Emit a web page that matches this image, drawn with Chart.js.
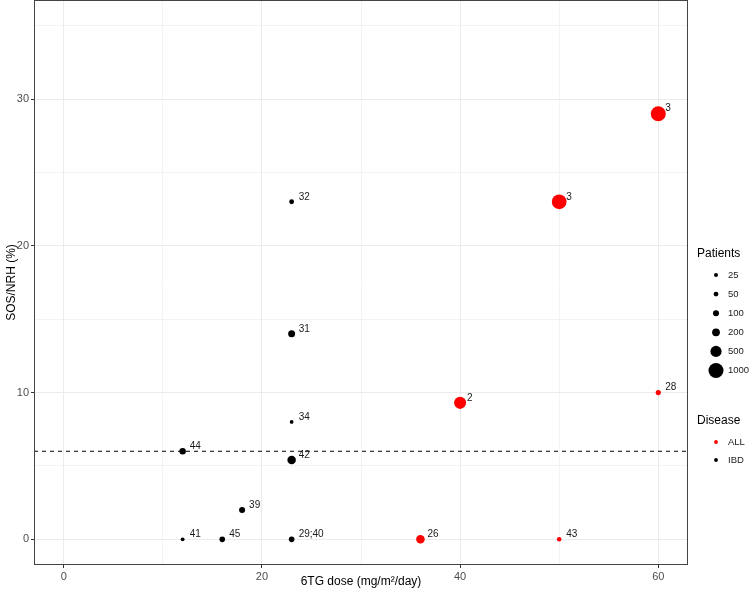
<!DOCTYPE html>
<html>
<head>
<meta charset="utf-8">
<script src="https://cdn.jsdelivr.net/npm/chart.js@4"></script>
<style>
  body { margin: 0; background: #fff; }
  #wrap { width: 750px; height: 600px; }
</style>
</head>
<body>
<div id="wrap"><canvas id="myChart" width="750" height="600"></canvas></div>
<script>
// datos
const ibdDose = [23, 23, 23, 12, 23, 18, 12, 16, 23];
const ibdRate = [23, 14, 8, 6, 5.4, 2, 0, 0, 0];
const ibdPatients = [50, 150, 20, 120, 250, 100, 20, 80, 80];
const ibdRefs = ['32', '31', '34', '44', '42', '39', '41', '45', '29;40'];

const allDose = [60, 50, 40, 60, 36, 50];
const allRate = [29, 23, 9.3, 10, 0, 0];
const allPatients = [1000, 950, 600, 60, 250, 40];
const allRefs = ['3', '3', '2', '28', '26', '43'];

const sizeBreaks = [25, 50, 100, 200, 500, 1000];
const xTicks = [0, 10, 20, 30, 40, 50, 60];
const yTicks = [0, 5, 10, 15, 20, 25, 30, 35];
const cutoff = 6;

const fontFam = '"Liberation Sans", Arial, sans-serif';

// radio del punto segun numero de pacientes
const radio = (n) => 0.97 + 0.207 * Math.sqrt(n);

const toPoints = (xs, ys) => xs.map((x, i) => ({ x: x, y: ys[i] }));

// etiquetas junto a cada punto
const etiquetas = {
    id: 'etiquetas',
    afterDatasetsDraw(chart) {
        const c = chart.ctx;
        c.save();
        c.font = '10px ' + fontFam;
        c.fillStyle = '#1a1a1a';
        c.textAlign = 'left';
        c.textBaseline = 'middle';
        chart.data.datasets.forEach((ds, k) => {
            if (!ds.refs) return;
            chart.getDatasetMeta(k).data.forEach((pt, i) => {
                c.fillText(ds.refs[i], pt.x + 7, pt.y - 5);
            });
        });
        c.restore();
    }
};

// borde del panel y leyenda a la derecha
const panel = {
    id: 'panel',
    beforeDraw(chart) {
        const c = chart.ctx;
        c.save();
        c.fillStyle = '#fff';
        c.fillRect(0, 0, chart.width, chart.height);
        c.restore();
    },
    afterDraw(chart) {
        const c = chart.ctx;
        const a = chart.chartArea;
        c.save();
        c.strokeStyle = '#444';
        c.lineWidth = 1;
        c.strokeRect(a.left + 0.5, a.top + 0.5, a.right - a.left - 1, a.bottom - a.top - 1);

        const lx = a.right + 9;
        c.fillStyle = '#000';
        c.textBaseline = 'middle';
        c.textAlign = 'left';
        c.font = '12px ' + fontFam;
        c.fillText('Patients', lx, 254);
        c.font = '9.5px ' + fontFam;
        sizeBreaks.forEach((b, i) => {
            const y = 275 + i * 19.1;
            c.fillStyle = '#000';
            c.beginPath();
            c.arc(lx + 19, y, radio(b), 0, Math.PI * 2);
            c.fill();
            c.fillStyle = '#1a1a1a';
            c.fillText(String(b), lx + 31, y);
        });

        c.fillStyle = '#000';
        c.font = '12px ' + fontFam;
        c.fillText('Disease', lx, 421);
        c.font = '9.5px ' + fontFam;
        [['ALL', '#ff0000', 442], ['IBD', '#000', 460]].forEach(([t, col, y]) => {
            c.fillStyle = col;
            c.beginPath();
            c.arc(lx + 19, y, 1.9, 0, Math.PI * 2);
            c.fill();
            c.fillStyle = '#1a1a1a';
            c.fillText(t, lx + 31, y);
        });
        c.restore();
    }
};

const esMayor = (v, paso) => v % paso === 0;

new Chart(document.getElementById('myChart'), {
    type: 'scatter',
    data: {
        datasets: [
            {
                type: 'line',
                label: 'corte',
                data: [{ x: -3, y: cutoff }, { x: 63, y: cutoff }],
                borderColor: '#000',
                borderWidth: 1,
                borderDash: [4, 4],
                pointRadius: 0,
                fill: false,
                order: 3
            },
            {
                label: 'IBD',
                data: toPoints(ibdDose, ibdRate),
                refs: ibdRefs,
                backgroundColor: '#000',
                borderWidth: 0,
                pointRadius: ibdPatients.map(radio),
                order: 2
            },
            {
                label: 'ALL',
                data: toPoints(allDose, allRate),
                refs: allRefs,
                backgroundColor: '#ff0000',
                borderWidth: 0,
                pointRadius: allPatients.map(radio),
                order: 1
            }
        ]
    },
    options: {
        responsive: false,
        animation: false,
        layout: { autoPadding: false, padding: { left: 0, right: 62, top: 0, bottom: 7 } },
        plugins: {
            legend: { display: false },
            tooltip: { enabled: false }
        },
        scales: {
            x: {
                type: 'linear',
                min: -3,
                max: 63,
                afterBuildTicks: (s) => { s.ticks = xTicks.map(v => ({ value: v })); },
                afterFit: (s) => { s.height = 28; s.paddingLeft = 0; s.paddingRight = 0; },
                border: { display: false },
                grid: {
                    color: '#ebebeb',
                    lineWidth: (ctx) => esMayor(ctx.tick.value, 20) ? 1 : 0.6,
                    tickColor: (ctx) => esMayor(ctx.tick.value, 20) ? '#333' : 'rgba(0,0,0,0)',
                    tickLength: 3
                },
                ticks: {
                    padding: 2,
                    color: '#4d4d4d',
                    font: { family: fontFam, size: 11 },
                    maxRotation: 0,
                    callback: (v) => esMayor(v, 20) ? v : ''
                },
                title: {
                    display: true,
                    text: '6TG dose (mg/m\u00b2/day)',
                    color: '#000',
                    font: { family: fontFam, size: 12 },
                    padding: { top: 2, bottom: 4 }
                }
            },
            y: {
                type: 'linear',
                min: -1.75,
                max: 36.75,
                afterBuildTicks: (s) => { s.ticks = yTicks.map(v => ({ value: v })); },
                afterFit: (s) => { s.width = 34; s.paddingTop = 0; s.paddingBottom = 0; },
                border: { display: false },
                grid: {
                    color: '#ebebeb',
                    lineWidth: (ctx) => esMayor(ctx.tick.value, 10) ? 1 : 0.6,
                    tickColor: (ctx) => esMayor(ctx.tick.value, 10) ? '#333' : 'rgba(0,0,0,0)',
                    tickLength: 3
                },
                ticks: {
                    padding: 2,
                    color: '#4d4d4d',
                    font: { family: fontFam, size: 11 },
                    callback: (v) => esMayor(v, 10) ? v : ''
                },
                title: {
                    display: true,
                    text: 'SOS/NRH (%)',
                    color: '#000',
                    font: { family: fontFam, size: 12 },
                    padding: { top: 4, bottom: 2 }
                }
            }
        }
    },
    plugins: [panel, etiquetas]
});
</script>
</body>
</html>
